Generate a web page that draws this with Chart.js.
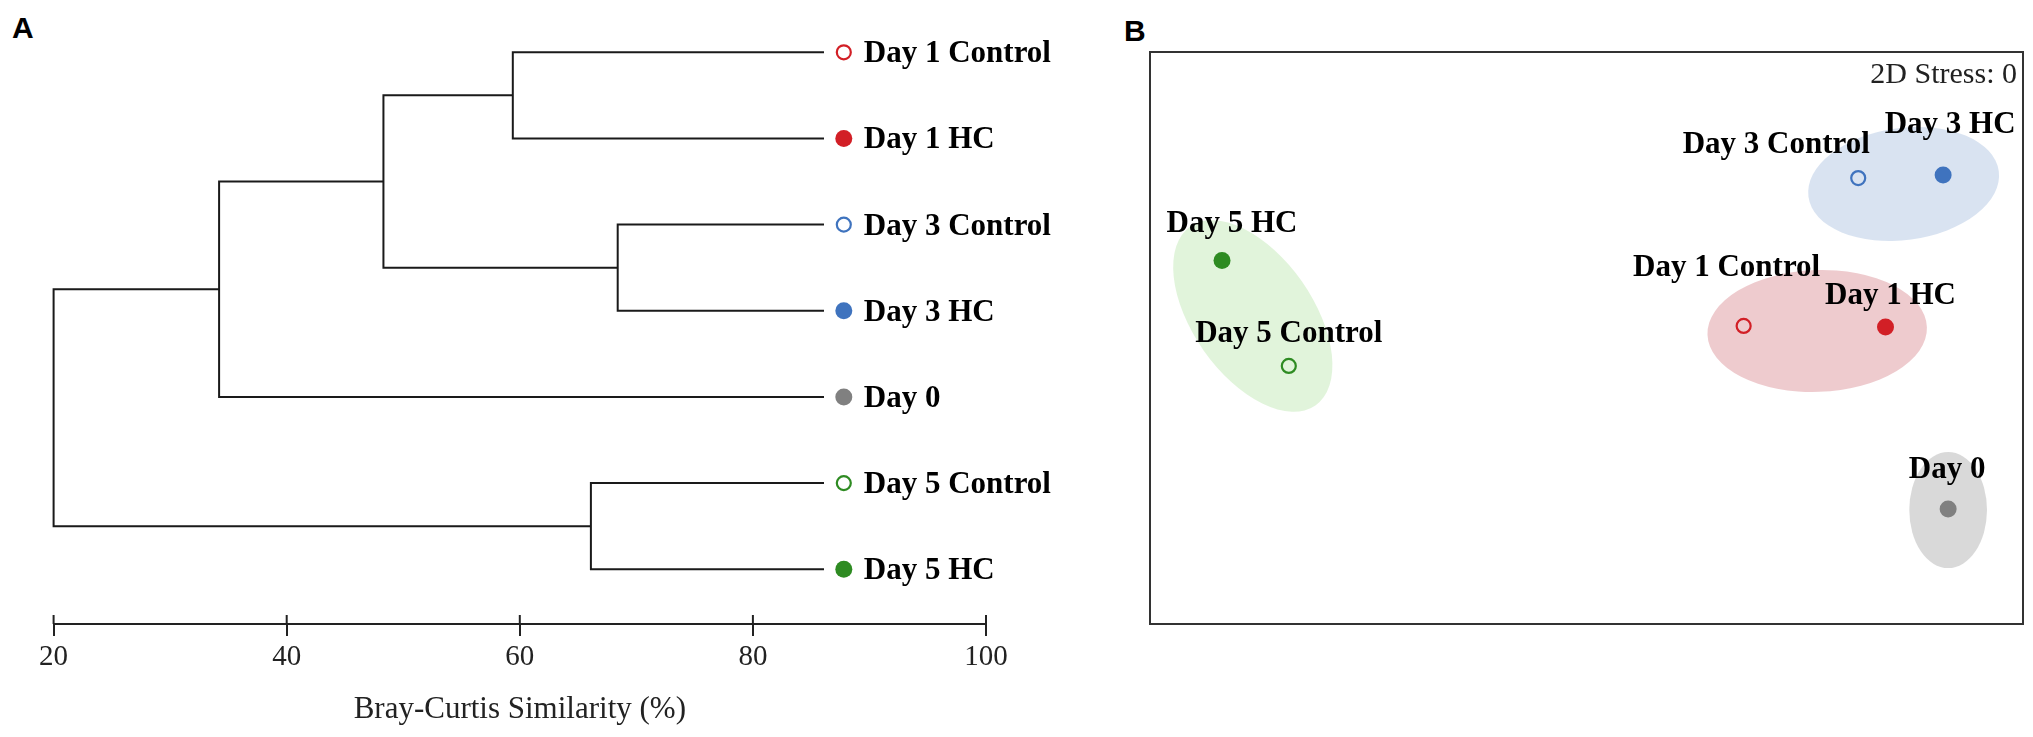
<!DOCTYPE html>
<html>
<head>
<meta charset="utf-8">
<script src="https://cdn.jsdelivr.net/npm/chart.js@4.4.1/dist/chart.umd.min.js"></script>
<style>
  body { margin: 0; background: #fff; width: 2033px; height: 737px; position: relative; overflow: hidden; }
  .panel { position: absolute; top: 0; }
  .tag { position: absolute; font: bold 30px "Liberation Sans", Arial, sans-serif; line-height: 30px; color: #000; }
</style>
</head>
<body>
<div class="tag" style="left:12px;top:13px">A</div>
<div class="tag" style="left:1124px;top:16px">B</div>
<canvas id="dendro" class="panel" style="left:0" width="1100" height="737"></canvas>
<canvas id="nmds" class="panel" style="left:1100px" width="933" height="737"></canvas>
<script>
// ---- panel A : cluster dendrogram ----
const leafNames = ["Day 1 Control", "Day 1 HC", "Day 3 Control", "Day 3 HC", "Day 0", "Day 5 Control", "Day 5 HC"];
const leafFilled = [false, true, false, true, true, false, true];
// nodes 0-6 are the leaves, merge k becomes node 7+k
const mergeLeft = [0, 2, 7, 9, 5, 10];
const mergeRight = [1, 3, 8, 4, 6, 11];
const mergeSimilarity = [59.4, 68.4, 48.3, 34.2, 66.1, 20];
const xTicks = [20, 40, 60, 80, 100];

// ---- panel B : nMDS ordination ----
const sampleNames = ["Day 0", "Day 1 Control", "Day 1 HC", "Day 3 Control", "Day 3 HC", "Day 5 Control", "Day 5 HC"];
const sampleFilled = [true, false, true, false, true, false, true];
const nmdsX = [1.657, 0.72, 1.37, 1.245, 1.634, -1.364, -1.67];
const nmdsY = [-0.777, 0.055, 0.05, 0.727, 0.741, -0.127, 0.352];
const groupNames = ["Day 0", "Day 1", "Day 3", "Day 5"];
const ellipseX = [1.657, 1.057, 1.453, -1.529];
const ellipseY = [-0.782, 0.032, 0.7, 0.1];
const ellipseRx = [0.178, 0.503, 0.44, 0.5];
const ellipseRy = [0.264, 0.277, 0.255, 0.273];
const ellipseAngle = [0, -2, -7.7, 55]; // degrees, clockwise on screen
const stress = 0;

const colorOf = {
  "Day 0": "#808080",
  "Day 1": "#d21f26",
  "Day 3": "#3f73be",
  "Day 5": "#2e8b22",
};
const fillOf = {
  "Day 0": "rgba(210,210,210,0.85)",
  "Day 1": "rgba(234,190,194,0.8)",
  "Day 3": "rgba(210,222,238,0.85)",
  "Day 5": "rgba(218,241,210,0.8)",
};
const groupOf = (name) => name.split(" ").slice(0, 2).join(" ");

const serif = '"Liberation Serif", "Times New Roman", serif';
const lineColor = "#1a1a1a";
const axisColor = "#222";

// build branch paths from the merges
const leafEnd = 86.1;
const markerX = 87.8;
const nodes = leafNames.map((n, i) => ({ x: leafEnd, y: i }));
const branchSets = [];
for (let k = 0; k < mergeSimilarity.length; k++) {
  const a = nodes[mergeLeft[k]];
  const b = nodes[mergeRight[k]];
  const s = mergeSimilarity[k];
  branchSets.push({
    data: [
      { x: a.x, y: a.y },
      { x: s, y: a.y },
      { x: s, y: b.y },
      { x: b.x, y: b.y },
    ],
    showLine: true,
    borderColor: lineColor,
    borderWidth: 2,
    pointRadius: 0,
    clip: false,
  });
  nodes.push({ x: s, y: (a.y + b.y) / 2 });
}

const leafColors = leafNames.map((n) => colorOf[groupOf(n)]);
const markerSet = {
  data: leafNames.map((n, i) => ({ x: markerX, y: i })),
  pointRadius: leafFilled.map((f) => (f ? 8.5 : 7)),
  pointBackgroundColor: leafNames.map((n, i) => (leafFilled[i] ? leafColors[i] : "#fff")),
  pointBorderColor: leafColors,
  pointBorderWidth: leafFilled.map((f) => (f ? 0 : 2.2)),
  clip: false,
};

const tickUp = {
  id: "tickUp",
  afterDraw(chart) {
    const s = chart.scales.x;
    const ctx = chart.ctx;
    ctx.save();
    ctx.strokeStyle = axisColor;
    ctx.lineWidth = 2;
    s.ticks.forEach((t) => {
      const px = s.getPixelForValue(t.value);
      ctx.beginPath();
      ctx.moveTo(px, s.top);
      ctx.lineTo(px, s.top - 9);
      ctx.stroke();
    });
    ctx.restore();
  },
};

const leafLabels = {
  id: "leafLabels",
  afterDatasetsDraw(chart) {
    const meta = chart.getDatasetMeta(chart.data.datasets.length - 1);
    const ctx = chart.ctx;
    ctx.save();
    ctx.font = "bold 31px " + serif;
    ctx.fillStyle = "#000";
    ctx.textAlign = "left";
    ctx.textBaseline = "middle";
    meta.data.forEach((pt, i) => {
      ctx.fillText(leafNames[i], pt.x + 20, pt.y + 2);
    });
    ctx.restore();
  },
};

new Chart(document.getElementById("dendro"), {
  type: "scatter",
  data: { datasets: [...branchSets, markerSet] },
  options: {
    responsive: false,
    animation: false,
    events: [],
    layout: { padding: { left: 53.6, right: 114, top: 7.5, bottom: 6.4 } },
    plugins: { legend: { display: false }, tooltip: { enabled: false } },
    scales: {
      x: {
        type: "linear",
        min: 20,
        max: 100,
        afterBuildTicks: (s) => {
          s.ticks = xTicks.map((v) => ({ value: v }));
        },
        grid: { drawOnChartArea: false, tickLength: 12, color: axisColor, lineWidth: 2 },
        border: { color: axisColor, width: 2 },
        ticks: { font: { family: serif, size: 29 }, color: "#222", padding: 4, maxRotation: 0 },
        title: {
          display: true,
          text: "Bray-Curtis Similarity (%)",
          font: { family: serif, size: 31 },
          color: "#222",
          padding: { top: 12.6, bottom: 2 },
        },
      },
      y: { type: "linear", min: -0.5, max: 6.635, reverse: true, display: false },
    },
  },
  plugins: [tickUp, leafLabels],
});

// ---- panel B ----
const labelOffsets = [[-1, -39], [-17, -58], [5, -31], [-82, -33], [7, -50], [0, -32], [10, -37]];

const ellipses = {
  id: "ellipses",
  beforeDatasetsDraw(chart) {
    const { x, y } = chart.scales;
    const ctx = chart.ctx;
    ctx.save();
    groupNames.forEach((g, i) => {
      const cx = x.getPixelForValue(ellipseX[i]);
      const cy = y.getPixelForValue(ellipseY[i]);
      const rx = Math.abs(x.getPixelForValue(ellipseX[i] + ellipseRx[i]) - cx);
      const ry = Math.abs(y.getPixelForValue(ellipseY[i] + ellipseRy[i]) - cy);
      ctx.beginPath();
      ctx.ellipse(cx, cy, rx, ry, (ellipseAngle[i] * Math.PI) / 180, 0, Math.PI * 2);
      ctx.fillStyle = fillOf[g];
      ctx.fill();
    });
    ctx.restore();
  },
};

const sampleLabels = {
  id: "sampleLabels",
  afterDatasetsDraw(chart) {
    const meta = chart.getDatasetMeta(0);
    const ctx = chart.ctx;
    const area = chart.chartArea;
    ctx.save();
    ctx.font = "bold 31px " + serif;
    ctx.fillStyle = "#000";
    ctx.textAlign = "center";
    ctx.textBaseline = "middle";
    meta.data.forEach((pt, i) => {
      ctx.fillText(sampleNames[i], pt.x + labelOffsets[i][0], pt.y + labelOffsets[i][1]);
    });
    ctx.font = "30px " + serif;
    ctx.fillStyle = "#222";
    ctx.textAlign = "right";
    ctx.fillText("2D Stress: " + stress, area.right - 6, area.top + 23);
    ctx.lineWidth = 2;
    ctx.strokeStyle = "#333";
    ctx.strokeRect(area.left, area.top, area.right - area.left, area.bottom - area.top);
    ctx.restore();
  },
};

const sampleColors = sampleNames.map((n) => colorOf[groupOf(n)]);

new Chart(document.getElementById("nmds"), {
  type: "scatter",
  data: {
    datasets: [
      {
        data: sampleNames.map((n, i) => ({ x: nmdsX[i], y: nmdsY[i] })),
        pointRadius: sampleFilled.map((f) => (f ? 8.5 : 7)),
        pointBackgroundColor: sampleNames.map((n, i) => (sampleFilled[i] ? sampleColors[i] : "rgba(255,255,255,0)")),
        pointBorderColor: sampleColors,
        pointBorderWidth: sampleFilled.map((f) => (f ? 0 : 2.2)),
      },
    ],
  },
  options: {
    responsive: false,
    animation: false,
    events: [],
    layout: { padding: { left: 50, right: 10, top: 52, bottom: 113 } },
    plugins: { legend: { display: false }, tooltip: { enabled: false } },
    scales: {
      x: { type: "linear", min: -2, max: 2, display: false },
      y: { type: "linear", min: -1.3, max: 1.3, display: false },
    },
  },
  plugins: [ellipses, sampleLabels],
});
</script>
</body>
</html>
